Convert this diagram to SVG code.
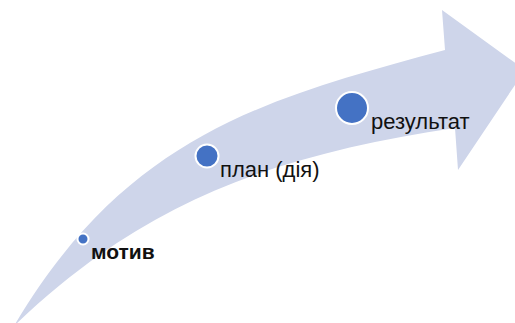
<svg xmlns="http://www.w3.org/2000/svg" width="515" height="323" viewBox="0 0 515 323">
  <style>
    .arrow { fill: #CED5EA; stroke: none; }
    .dot { fill: #4472C4; stroke: #FFFFFF; stroke-width: 2; }
    .lbl { font-family: "Liberation Sans", Arial, sans-serif; font-size: 22px; fill: #111111; }
    .bold { font-weight: bold; font-size: 21px; }
  </style>
  <rect width="515" height="323" fill="#FFFFFF"/>
  <g id="arrow">
    <path class="arrow" d="M14,326 C127,134 271,97 445,50 L442,10 L525,70 L458,170 L455,128 C277,155 146,199 14,326 Z"/>
  </g>
  <g id="connectors"></g>
  <g id="node-motiv">
    <circle class="dot" cx="83" cy="239" r="5.5"/>
    <text class="lbl bold" x="91" y="259">мотив</text>
  </g>
  <g id="node-plan">
    <circle class="dot" cx="207" cy="156" r="11.5"/>
    <text class="lbl" x="220" y="177">план (дія)</text>
  </g>
  <g id="node-result">
    <circle class="dot" cx="352" cy="108" r="16"/>
    <text class="lbl" x="371" y="129">результат</text>
  </g>
</svg>
